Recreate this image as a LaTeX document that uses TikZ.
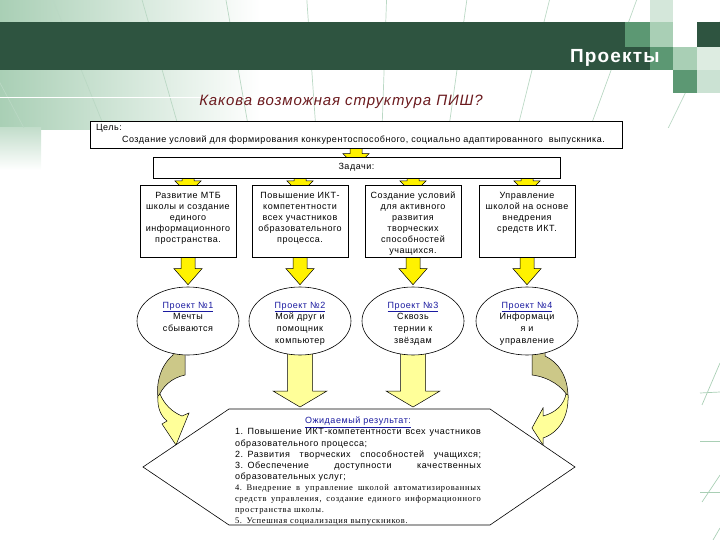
\documentclass[tikz,border=0pt]{standalone}
\usepackage{fontspec}
\setmainfont{Liberation Sans}
\newfontfamily\spaced[LetterSpace=6]{Liberation Sans}
\newfontfamily\serifsp[LetterSpace=8]{Liberation Serif}
\usetikzlibrary{calc,shapes.geometric}

\definecolor{bandgreen}{HTML}{2E5440}
\definecolor{midgreen}{HTML}{5C9873}
\definecolor{paleg}{HTML}{A9CFB5}
\definecolor{titlered}{HTML}{6B1A1E}
\definecolor{linkblue}{HTML}{1A1AA0}
\definecolor{smallyel}{HTML}{FFF200}
\definecolor{arryel}{HTML}{FFFF99}
\definecolor{khaki}{HTML}{CCC888}

\pgfdeclarelayer{decor}
\pgfdeclarelayer{arrows}
\pgfsetlayers{decor,arrows,main}

\newcommand\taskpar[1]{\parbox[t][66pt][t]{90pt}{\vspace*{4pt}\centering #1}}
\newcommand\projpar[1]{\parbox[t][44pt][t]{66pt}{\vspace*{3pt}\centering #1}}
\newcommand\projlink[1]{\textcolor{linkblue}{\underline{#1}}}
\newcommand\jline[1]{{\spaceskip=\fontdimen2\font plus 1fil\relax\leavevmode\hbox to\linewidth{#1}}}

\tikzset{
  arrshaft/.store in=\arrshaft, arrshaft=6pt,
  arrhead/.store in=\arrhead, arrhead=13pt,
  arrlen/.store in=\arrlen, arrlen=13pt,
  blockarrow/.style={draw=black, line width=0.5pt, fill=smallyel,
    to path={let \p1=(\tikztostart), \p2=(\tikztotarget) in
      (\x1-\arrshaft,\y1) -- (\x1-\arrshaft,\y2+\arrlen) -- (\x1-\arrhead,\y2+\arrlen)
      -- (\x1,\y2) -- (\x1+\arrhead,\y2+\arrlen) -- (\x1+\arrshaft,\y2+\arrlen)
      -- (\x1+\arrshaft,\y1) -- cycle}},
  framebox/.style={draw, fill=white, line width=0.6pt, font={\fontsize{9}{11}\spaced}},
  taskbox/.style={framebox, anchor=north, inner sep=3pt},
  proj/.style={ellipse, draw, fill=white, line width=0.6pt, minimum width=102pt,
    minimum height=68pt, inner sep=0pt, font={\fontsize{9}{11.7}\spaced}},
  curveback/.style={draw, fill=khaki, line width=0.5pt},
  curvefront/.style={draw, fill=arryel, line width=0.5pt}
}

\begin{document}
\begin{tikzpicture}[x=1pt,y=-1pt]
\useasboundingbox (0,0) rectangle (720,540);

\begin{pgfonlayer}{decor}
% slide background
\shade[left color=paleg, right color=white] (0,0) rectangle (260,130);
\shade[top color=paleg!70, bottom color=white] (0,128) rectangle (41,170);
\begin{scope}
\clip (0,0) rectangle (720,128);
\foreach \a in {-58,-64,...,-122}
  \draw[paleg!80, line width=0.7pt] (360,760) -- +(\a:900);
\end{scope}
\draw[white, line width=1pt] (0,98) -- (330,98);
\draw[paleg, line width=0.7pt] (702,405) -- (720,363);
\draw[paleg, line width=0.7pt] (702,502) -- (720,475);
\draw[paleg, line width=0.7pt] (713,540) -- (720,528);
\draw[paleg, line width=0.7pt] (700,393) -- (720,392);
\draw[paleg, line width=0.7pt] (700,441) -- (720,441);
\draw[paleg, line width=0.7pt] (700,492) -- (720,492);
% header band and squares
\fill[bandgreen] (0,22) rectangle (625,47);
\fill[bandgreen] (0,47) rectangle (650,70);
\fill[paleg!50] (650,0) rectangle (673,22);
\fill[midgreen] (625,22) rectangle (650,47);
\fill[paleg] (650,22) rectangle (673,47);
\fill[bandgreen] (697,22) rectangle (720,47);
\fill[midgreen] (650,47) rectangle (673,70);
\fill[paleg] (673,47) rectangle (697,70);
\fill[paleg!40] (697,47) rectangle (720,70);
\fill[midgreen] (673,70) rectangle (697,93);
\fill[paleg!60] (697,70) rectangle (720,93);
\end{pgfonlayer}

\node[anchor=base east, text=white, font={\fontsize{19}{21}\spaced\bfseries}] (hdr) at (663,63) {Проекты};
\node[text=titlered, font={\fontsize{15}{18}\spaced\itshape}] (title) at (341,102) {Какова возможная структура ПИШ?};

% goal and tasks
\node[framebox, minimum width=532pt, minimum height=27pt, text width=520pt, align=left,
  inner sep=2pt, font={\fontsize{9}{12}\spaced}] (goal) at (356,134.5)
  {Цель:\\\hspace*{26pt}Создание условий для формирования конкурентоспособного, социально адаптированного \ выпускника.};
\node[framebox, minimum width=407pt, minimum height=21pt] (tasks) at (356.5,167.5) {Задачи:};

\node[taskbox] (t1) at (188,185) {\taskpar{Развитие МТБ\\школы и создание\\единого\\информационного\\пространства.}};
\node[taskbox] (t2) at (300,185) {\taskpar{Повышение ИКТ-\\компетентности\\всех участников\\образовательного\\процесса.}};
\node[taskbox] (t3) at (413,185) {\taskpar{Создание условий\\для активного\\развития\\творческих\\способностей\\учащихся.}};
\node[taskbox] (t4) at (527,185) {\taskpar{Управление\\школой на основе\\внедрения\\средств ИКТ.}};

% projects
\node[proj] (e1) at (188,321) {\projpar{\projlink{Проект №1}\\Мечты\\сбываются}};
\node[proj] (e2) at (300,321) {\projpar{\projlink{Проект №2}\\Мой друг и\\помощник\\компьютер}};
\node[proj] (e3) at (413,321) {\projpar{\projlink{Проект №3}\\Сквозь\\тернии к\\звёздам}};
\node[proj] (e4) at (527,321) {\projpar{\projlink{Проект №4}\\Информаци\\я и\\управление}};

% expected result
\coordinate (hL) at (143,467);
\coordinate (hTL) at (229,409);
\coordinate (hTR) at (490,409);
\coordinate (hR) at (575,467);
\coordinate (hBR) at (490,525);
\coordinate (hBL) at (229,525);
\draw[fill=white, line width=0.6pt] (hL) -- (hTL) -- (hTR) -- (hR) -- (hBR) -- (hBL) -- cycle;
\node[anchor=north, text width=246pt, align=left, inner sep=0pt, font={\fontsize{9}{11.1}\spaced}] (res) at (358,417) {%
\makebox[\linewidth][c]{\projlink{Ожидаемый результат:}}\\
\jline{1. Повышение ИКТ-компетентности всех участников}\\
образовательного процесса;\\
\jline{2. Развития творческих способностей учащихся;}\\
\jline{3. Обеспечение доступности качественных}\\
образовательных услуг;\\
{\fontsize{8.5}{11.1}\serifsp\jline{4. Внедрение в управление школой автоматизированных}}\\
{\fontsize{8.5}{11.1}\serifsp\jline{средств управления, создание единого информационного}}\\
{\fontsize{8.5}{11.1}\serifsp пространства школы.}\\
{\fontsize{8.5}{11.1}\serifsp 5. Успешная социализация выпускников.}};

\begin{pgfonlayer}{arrows}
\draw[blockarrow] (goal.south) to ($(tasks.north)+(0,10)$);
\foreach \t in {t1,t2,t3,t4}
  \draw[blockarrow] (\t.north |- tasks.south) to ($(\t.north)+(0,9)$);
\foreach \t/\e in {t1/e1,t2/e2,t3/e3,t4/e4}
  \draw[blockarrow, arrshaft=7pt, arrhead=14pt, arrlen=16pt] (\t.south) to ($(\e.north)+(0,-2)$);
\foreach \e in {e2,e3}
  \draw[blockarrow, fill=arryel, arrshaft=12.5pt, arrhead=27pt, arrlen=16pt] (\e.center) to ($(\e.south |- hTL)+(0,-2)$);
% curved arrows
\draw[curveback] (173,350) -- (185,350) -- (185,375) .. controls (171,378) and (162,387) .. (158,398)
  .. controls (156,384) and (160,366) .. (173,355) -- cycle;
\draw[curvefront] (158,396) .. controls (157,408) and (161,416) .. (167,421)
  -- (162,424) -- (176,445) -- (189,413) -- (182,416)
  .. controls (172,412) and (164,404) .. (160,394) -- cycle;
\draw[curveback] (532,350) -- (545,350) -- (545,356) .. controls (558,362) and (568,376) .. (568,397)
  .. controls (563,387) and (549,377) .. (532,375) -- cycle;
\draw[curvefront] (568,395) .. controls (569,418) and (558,433) .. (543,438)
  -- (543,445) -- (532,428) -- (543,408) -- (543,416)
  .. controls (555,413) and (564,405) .. (566,394) -- cycle;
\end{pgfonlayer}
\end{tikzpicture}
\end{document}
